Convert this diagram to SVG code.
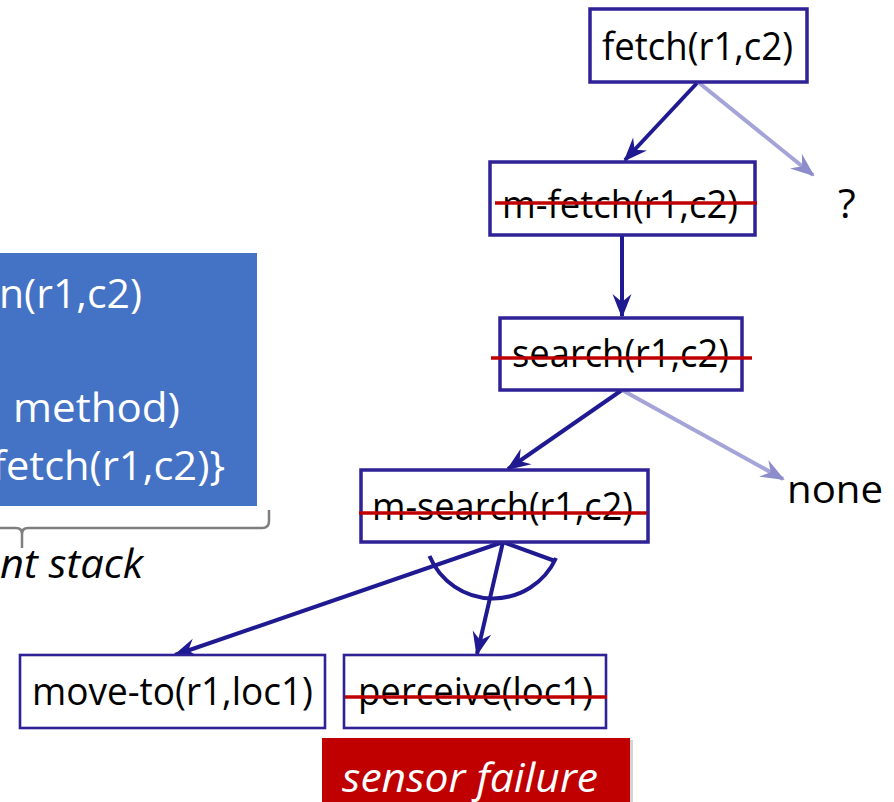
<svg xmlns="http://www.w3.org/2000/svg" width="894" height="802" viewBox="0 0 894 802">
  <style>
    .box { fill: #ffffff; stroke: #2F2196; stroke-width: 3.5; }
    .box-thin { fill: #ffffff; stroke: #2F2196; stroke-width: 2.6; }
    .lbl { font-family: "Open Sans", "Noto Sans", "DejaVu Sans", sans-serif; font-size: 38px; fill: #000000; }
    .wlbl { font-family: "Open Sans", "Noto Sans", "DejaVu Sans", sans-serif; font-size: 41px; fill: #ffffff; }
    .big { font-size: 41px; }
    .ital { font-style: italic; }
    .strike { stroke: #C00000; stroke-width: 3.5; fill: none; }
    .edge { stroke: #1F1A91; stroke-width: 4; fill: none; marker-end: url(#head); }
    .edge-faint { stroke: #A4A4D8; stroke-width: 4; fill: none; marker-end: url(#head-faint); }
    .and-arc { stroke: #1F1A91; stroke-width: 4; fill: none; }
  </style>
  <defs>
    <marker id="head" markerUnits="userSpaceOnUse" markerWidth="30" markerHeight="24" viewBox="-24 -12 28 24" refX="0" refY="0" orient="auto">
      <path d="M2,0 L-22,-9.5 L-14,0 L-22,9.5 Z" fill="#1F1A91"/>
    </marker>
    <marker id="head-faint" markerUnits="userSpaceOnUse" markerWidth="30" markerHeight="24" viewBox="-24 -12 28 24" refX="0" refY="0" orient="auto">
      <path d="M2,0 L-22,-9.5 L-14,0 L-22,9.5 Z" fill="#8C8CCC"/>
    </marker>
  </defs>

  <!-- agenda / stack panel on the left -->
  <g id="stack-panel">
    <rect x="-6" y="253" width="263" height="253" fill="#4472C4"/>
    <text class="wlbl" x="-1" y="308" textLength="143" lengthAdjust="spacingAndGlyphs">n(r1,c2)</text>
    <text class="wlbl" x="13" y="422" textLength="167" lengthAdjust="spacingAndGlyphs">method)</text>
    <text class="wlbl" x="-8" y="480" textLength="233" lengthAdjust="spacingAndGlyphs">fetch(r1,c2)}</text>
  </g>

  <!-- curly brace under the panel -->
  <g id="stack-brace">
    <path d="M0,528 H16 Q22,528 22,534 V548 M22,534 Q22,528 28,528 H262 Q269,528 269,521 V510" fill="none" stroke="#7F7F7F" stroke-width="2.5"/>
    <text class="lbl big ital" x="0" y="578" textLength="143" lengthAdjust="spacingAndGlyphs">nt stack</text>
  </g>

  <!-- connectors -->
  <g id="connectors">
    <path class="edge" d="M698,82 L625,160"/>
    <path class="edge-faint" d="M698,82 L813,175"/>
    <path class="edge" d="M622,235 L622,316"/>
    <path class="edge" d="M622,390 L508,469"/>
    <path class="edge-faint" d="M622,390 L783,479"/>
    <path class="edge" d="M503,542 L175,655"/>
    <path class="edge" d="M503,542 L477,654"/>
    <!-- AND arc joining the two subtasks -->
    <path class="and-arc" d="M429.5,556 A69,69 0 0 0 556,558"/>
    <path class="and-arc" d="M503,542 L555,561"/>
  </g>

  <g id="n-fetch">
    <rect class="box" x="590" y="9" width="217" height="73"/>
    <text class="lbl" x="602" y="60" textLength="191" lengthAdjust="spacingAndGlyphs">fetch(r1,c2)</text>
  </g>

  <g id="n-m-fetch">
    <rect class="box" x="490" y="162" width="265" height="73"/>
    <text class="lbl" x="502" y="218" textLength="236" lengthAdjust="spacingAndGlyphs">m-fetch(r1,c2)</text>
    <line class="strike" x1="495" y1="203" x2="757" y2="203"/>
  </g>

  <g id="n-unknown">
    <text class="lbl big" x="838" y="218">?</text>
  </g>

  <g id="n-search">
    <rect class="box" x="500" y="318" width="242" height="72"/>
    <text class="lbl" x="512" y="367" textLength="217" lengthAdjust="spacingAndGlyphs">search(r1,c2)</text>
    <line class="strike" x1="491" y1="358" x2="752" y2="358"/>
  </g>

  <g id="n-none">
    <text class="lbl" x="787" y="503" textLength="96" lengthAdjust="spacingAndGlyphs">none</text>
  </g>

  <g id="n-m-search">
    <rect class="box" x="361" y="470" width="287" height="72"/>
    <text class="lbl" x="372" y="520" textLength="261" lengthAdjust="spacingAndGlyphs">m-search(r1,c2)</text>
    <line class="strike" x1="359" y1="513" x2="647" y2="513"/>
  </g>

  <g id="n-move-to">
    <rect class="box-thin" x="20" y="655" width="305" height="73"/>
    <text class="lbl" x="32" y="705" textLength="281" lengthAdjust="spacingAndGlyphs">move-to(r1,loc1)</text>
  </g>

  <g id="n-perceive">
    <rect class="box-thin" x="344" y="655" width="262" height="73"/>
    <text class="lbl" x="358" y="705" textLength="235" lengthAdjust="spacingAndGlyphs">perceive(loc1)</text>
    <line class="strike" x1="345" y1="697" x2="607" y2="697"/>
  </g>

  <g id="n-sensor-failure">
    <rect x="325" y="740" width="308" height="70" fill="#9E9E9E" opacity="0.45"/>
    <rect x="322" y="738" width="308" height="70" fill="#C00000"/>
    <text class="wlbl ital" x="342" y="792" font-size="38" textLength="256" lengthAdjust="spacingAndGlyphs">sensor failure</text>
  </g>
</svg>
